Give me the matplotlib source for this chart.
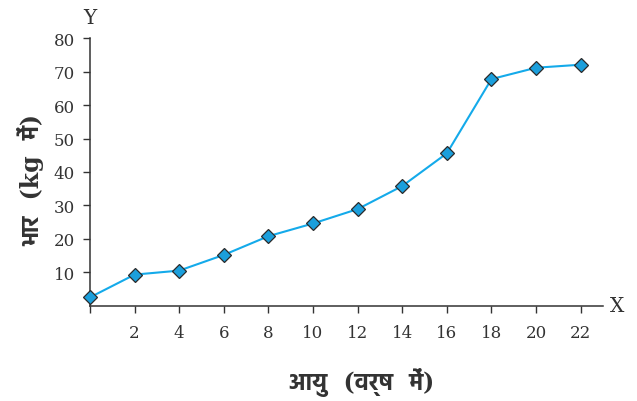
import matplotlib
matplotlib.use("Agg")
import matplotlib.pyplot as plt

# age (years) vs weight (kg)
ages = [0, 2, 4, 6, 8, 10, 12, 14, 16, 18, 20, 22]
weights = [2.5, 9.3, 10.5, 15.2, 20.8, 24.6, 28.9, 35.8, 45.6, 67.8, 71.2, 72.1]
xticks = [0, 2, 4, 6, 8, 10, 12, 14, 16, 18, 20, 22]
yticks = [10, 20, 30, 40, 50, 60, 70, 80]
xlabel = "आयु  (वर्ष  में)"
ylabel = "भार  (kg  में)"

hindi = ["DejaVu Serif", "Hind", "Noto Sans Devanagari", "Mukta"]
axc = "#333333"

fig = plt.figure(figsize=(6.37, 4.02), dpi=100)
ax = fig.add_axes([90/637, 1 - 306.7/402, 513/637, 267.4/402])

ax.plot(ages, weights, color="#14aaea", lw=1.5, marker="D", ms=6.8,
        mfc="#1b9fdc", mec="#2a2a2a", mew=0.9, zorder=3, clip_on=False)

ax.set_xlim(0, 23)
ax.set_ylim(0, 80)
for s in ["top", "right"]:
    ax.spines[s].set_visible(False)
for s in ["left", "bottom"]:
    ax.spines[s].set_color(axc)
    ax.spines[s].set_linewidth(1.1)

ax.set_xticks(xticks)
ax.set_xticklabels([str(t) if t else "" for t in xticks])
ax.set_yticks(yticks)
ax.tick_params(axis="both", colors=axc, length=5, width=1, labelsize=12,
               labelcolor="#333333")
ax.tick_params(axis="x", pad=8)
ax.tick_params(axis="y", pad=6)
for lab in ax.get_xticklabels() + ax.get_yticklabels():
    lab.set_family("DejaVu Serif")

fig.text(90/637, 1 - 18/402, "Y", family="DejaVu Serif", fontsize=14.5,
         color="#333333", ha="center", va="center")
fig.text(617/637, 1 - 307/402, "X", family="DejaVu Serif", fontsize=14.5,
         color="#333333", ha="center", va="center")

fig.text(362/637, 1 - 383/402, xlabel, family=hindi, fontsize=17,
         fontweight="bold", color="#333333", ha="center", va="center")
fig.text(31/637, 1 - 180/402, ylabel, family=hindi, fontsize=17,
         fontweight="bold", color="#333333", ha="center", va="center",
         rotation=90)

fig.savefig("out.png")
